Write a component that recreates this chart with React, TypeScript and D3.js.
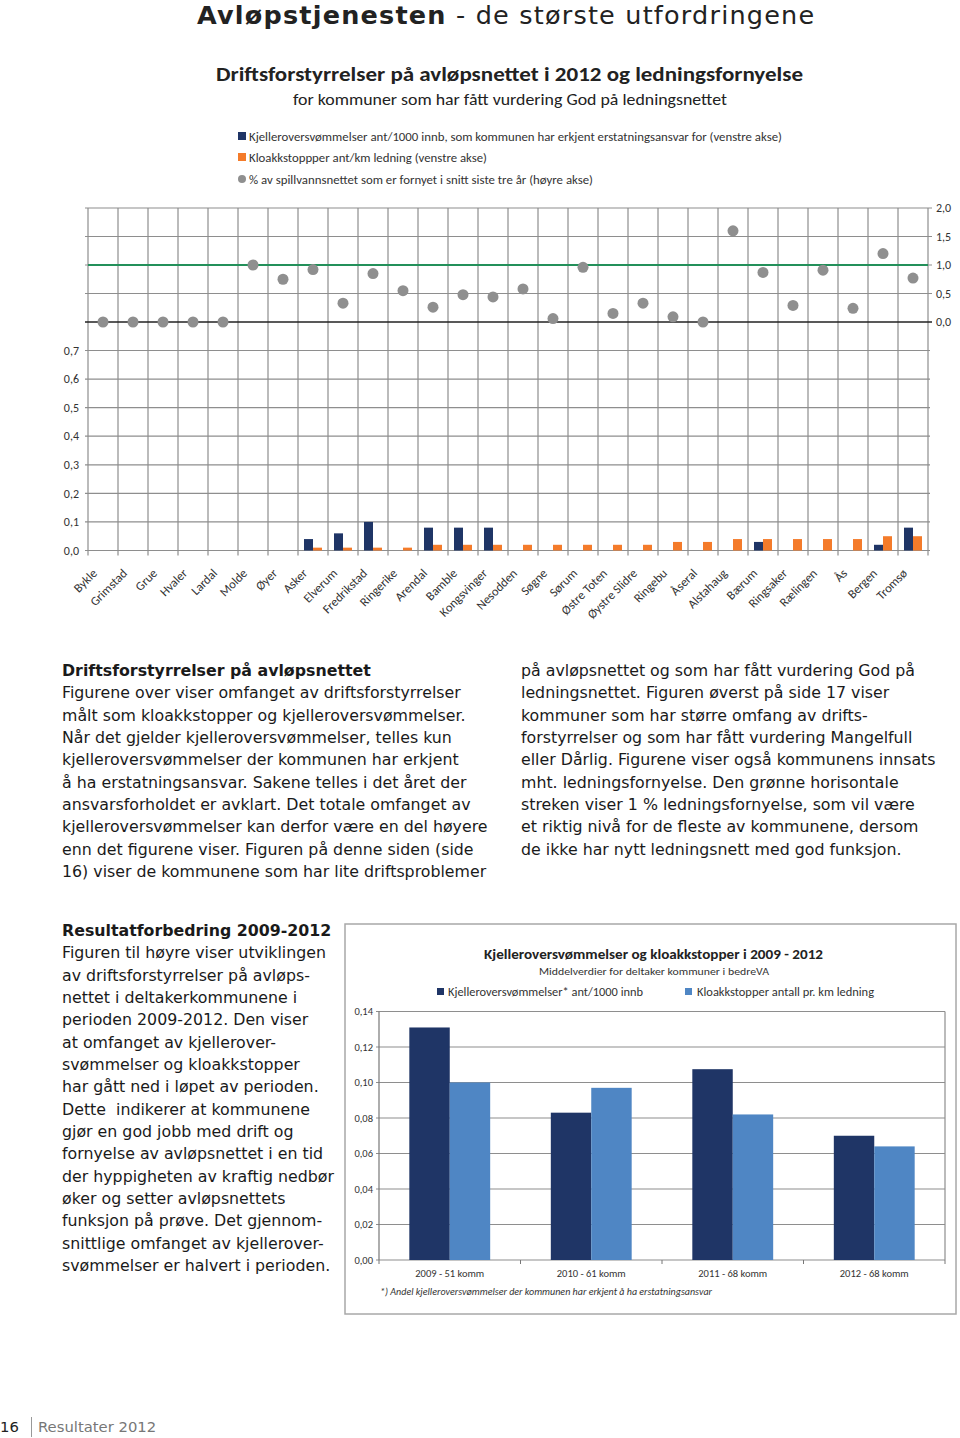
import React from 'react';
import * as d3 from 'd3';

// ---------- DATA ----------
const municipalities = ['Bykle','Grimstad','Grue','Hvaler','Lardal','Molde','Øyer','Asker','Elverum','Fredrikstad','Ringerike','Arendal','Bamble','Kongsvinger','Nesodden','Søgne','Sørum','Østre Toten','Øystre Slidre','Ringebu','Åseral','Alstahaug','Bærum','Ringsaker','Rælingen','Ås','Bergen','Tromsø'];
const basementFloods = [0,0,0,0,0,0,0,0.04,0.06,0.10,0,0.08,0.08,0.08,0,0,0,0,0,0,0,0,0.03,0,0,0,0.02,0.08];
const sewerBlockages = [0,0,0,0,0,0,0,0.01,0.01,0.01,0.01,0.02,0.02,0.02,0.02,0.02,0.02,0.02,0.02,0.03,0.03,0.04,0.04,0.04,0.04,0.04,0.05,0.05];
const renewalPct = [0,0,0,0,0,1.0,0.75,0.92,0.33,0.85,0.55,0.26,0.48,0.44,0.58,0.06,0.96,0.15,0.33,0.09,0.0,1.6,0.87,0.29,0.91,0.24,1.2,0.77];
const leftTicks = [0,0.1,0.2,0.3,0.4,0.5,0.6,0.7];
const rightTicks = [0,0.5,1.0,1.5,2.0];
const renewalTarget = 1.0;

const years = ['2009 - 51 komm','2010 - 61 komm','2011 - 68 komm','2012 - 68 komm'];
const avgFloods = [0.131,0.083,0.1075,0.070];
const avgBlockages = [0.100,0.097,0.082,0.064];
const bottomTicks = [0,0.02,0.04,0.06,0.08,0.10,0.12,0.14];

const para1Left = [
  'Figurene over viser omfanget av driftsforstyrrelser',
  'målt som kloakkstopper og kjelleroversvømmelser.',
  'Når det gjelder kjelleroversvømmelser, telles kun',
  'kjelleroversvømmelser der kommunen har erkjent',
  'å ha erstatningsansvar. Sakene telles i det året der',
  'ansvarsforholdet er avklart. Det totale omfanget av',
  'kjelleroversvømmelser kan derfor være en del høyere',
  'enn det figurene viser. Figuren på denne siden (side',
  '16) viser de kommunene som har lite driftsproblemer',
];
const para1Right = [
  'på avløpsnettet og som har fått vurdering God på',
  'ledningsnettet. Figuren øverst på side 17 viser',
  'kommuner som har større omfang av drifts-',
  'forstyrrelser og som har fått vurdering Mangelfull',
  'eller Dårlig. Figurene viser også kommunens innsats',
  'mht. ledningsfornyelse. Den grønne horisontale',
  'streken viser 1 % ledningsfornyelse, som vil være',
  'et riktig nivå for de fleste av kommunene, dersom',
  'de ikke har nytt ledningsnett med god funksjon.',
];
const para2 = [
  'Figuren til høyre viser utviklingen',
  'av driftsforstyrrelser på avløps-',
  'nettet i deltakerkommunene i',
  'perioden 2009-2012. Den viser',
  'at omfanget av kjellerover-',
  'svømmelser og kloakkstopper',
  'har gått ned i løpet av perioden.',
  'Dette  indikerer at kommunene',
  'gjør en god jobb med drift og',
  'fornyelse av avløpsnettet i en tid',
  'der hyppigheten av kraftig nedbør',
  'øker og setter avløpsnettets',
  'funksjon på prøve. Det gjennom-',
  'snittlige omfanget av kjellerover-',
  'svømmelser er halvert i perioden.',
];

// ---------- STYLE ----------
const VERD = '"DejaVu Sans", Verdana, sans-serif';
const CAL = 'Carlito, Calibri, Lato, sans-serif';
const NAVY = '#1f3566';
const ORANGE = '#f47b2a';
const LIGHT = '#4f86c4';
const GRID = '#8e8e8e';

const loc = d3.formatLocale({ decimal: ',', thousands: ' ', grouping: [3], currency: ['', ''] });
const f1 = loc.format('.1f');
const f2 = loc.format('.2f');

export default function App() {
  // upper combined chart
  const x = d3.scaleBand<string>().domain(municipalities).range([88, 928]).padding(0);
  const xi = d3.scaleBand<string>().domain(['k', 's']).range([0, x.bandwidth()]).paddingInner(0).paddingOuter(0.667);
  const yL = d3.scaleLinear().domain([0, 0.7]).range([550.5, 350.5]);
  const yR = d3.scaleLinear().domain([0, 2]).range([322, 208]);
  const left = 88, right = 928;

  // bottom chart
  const xb = d3.scaleBand<string>().domain(years).range([379, 945]).padding(0);
  const xbi = d3.scaleBand<string>().domain(['a', 'b']).range([0, xb.bandwidth()]).paddingInner(0).paddingOuter(0.75);
  const yb = d3.scaleLinear().domain([0, 0.14]).range([1260, 1011.5]);

  const lineH = 22.33;

  return (
    <svg width={960} height={1438} style={{ position: 'absolute', left: 0, top: 0, display: 'block', background: '#fff' }}>
      {/* Page title */}
      <text x={197} y={24} fontFamily={VERD} fontSize={25.5} letterSpacing={1.2} fill="#222">
        <tspan fontWeight="bold">Avløpstjenesten</tspan>
        <tspan> - de største utfordringene</tspan>
      </text>

      {/* Chart title */}
      <text x={216} y={81} fontFamily={CAL} fontWeight="bold" fontSize={20} fill="#222" textLength={587} lengthAdjust="spacingAndGlyphs">
        Driftsforstyrrelser på avløpsnettet i 2012 og ledningsfornyelse
      </text>
      <text x={293} y={105} fontFamily={CAL} fontSize={15.5} fill="#222" textLength={434} lengthAdjust="spacingAndGlyphs">
        for kommuner som har fått vurdering God på ledningsnettet
      </text>

      {/* Legend */}
      <rect x={238} y={132} width={8} height={8} fill={NAVY} />
      <text x={249} y={140.5} fontFamily={CAL} fontSize={12} fill="#333" textLength={533} lengthAdjust="spacingAndGlyphs">
        Kjelleroversvømmelser ant/1000 innb, som kommunen har erkjent erstatningsansvar for (venstre akse)
      </text>
      <rect x={238} y={153} width={8} height={8} fill={ORANGE} />
      <text x={249} y={161.5} fontFamily={CAL} fontSize={12} fill="#333" textLength={238} lengthAdjust="spacingAndGlyphs">
        Kloakkstoppper ant/km ledning (venstre akse)
      </text>
      <circle cx={242} cy={179} r={4} fill="#8f8f8f" />
      <text x={249} y={183.5} fontFamily={CAL} fontSize={12} fill="#333" textLength={344} lengthAdjust="spacingAndGlyphs">
        % av spillvannsnettet som er fornyet i snitt siste tre år (høyre akse)
      </text>

      {/* Upper grid (right axis) */}
      {rightTicks.map(t => (
        <g key={'r' + t}>
          {t !== 0 && <line x1={left - 3} x2={right + 4} y1={yR(t)} y2={yR(t)} stroke={GRID} strokeWidth={1.2} />}
          <text x={936} y={yR(t)} dy="0.35em" fontFamily={CAL} fontSize={12} fill="#333">{f1(t)}</text>
        </g>
      ))}
      {/* Lower grid (left axis) */}
      {leftTicks.map(t => (
        <g key={'l' + t}>
          <line x1={left - 3} x2={right + 2} y1={yL(t)} y2={yL(t)} stroke={GRID} strokeWidth={1.2} />
          <text x={79} y={yL(t)} dy="0.35em" textAnchor="end" fontFamily={CAL} fontSize={12} fill="#333">{f1(t)}</text>
        </g>
      ))}
      {/* Vertical grid */}
      {municipalities.map(m => (
        <line key={'v' + m} x1={x(m)!} x2={x(m)!} y1={yR(2)} y2={yL(0) + 5} stroke={GRID} strokeWidth={1.2} />
      ))}
      <line x1={right} x2={right} y1={yR(2)} y2={yL(0) + 5} stroke={GRID} strokeWidth={1.2} />

      {/* zero line (right axis) and target line */}
      <line x1={left - 3} x2={right + 4} y1={yR(0)} y2={yR(0)} stroke="#222" strokeWidth={1.4} />
      <line x1={left} x2={right} y1={yR(renewalTarget)} y2={yR(renewalTarget)} stroke="#23905a" strokeWidth={2} />

      {/* Bars */}
      {municipalities.map((m, i) => (
        <g key={'b' + m} transform={`translate(${x(m)},0)`}>
          {basementFloods[i] > 0 && (
            <rect x={xi('k')!} width={xi.bandwidth()} y={yL(basementFloods[i])} height={yL(0) - yL(basementFloods[i])} fill={NAVY} />
          )}
          {sewerBlockages[i] > 0 && (
            <rect x={xi('s')!} width={xi.bandwidth()} y={yL(sewerBlockages[i])} height={yL(0) - yL(sewerBlockages[i])} fill={ORANGE} />
          )}
        </g>
      ))}

      {/* Dots */}
      {municipalities.map((m, i) => (
        <circle key={'d' + m} cx={x(m)! + x.bandwidth() / 2} cy={yR(renewalPct[i])} r={5.5} fill="#8f8f8f" />
      ))}

      {/* Category labels */}
      {municipalities.map(m => {
        const cx = x(m)! + x.bandwidth() / 2;
        return (
          <text key={'t' + m} transform={`translate(${cx - 5},574) rotate(-45)`} textAnchor="end" fontFamily={CAL} fontSize={12.5} fill="#333">{m}</text>
        );
      })}

      {/* Paragraph 1 */}
      <g fontFamily={VERD} fontSize={15.8} fill="#1a1a1a">
        <text x={62} y={671 + 5} fontWeight="bold">Driftsforstyrrelser på avløpsnettet</text>
        {para1Left.map((l, i) => (
          <text key={'pl' + i} x={62} y={671 + 5 + (i + 1) * lineH} style={{ whiteSpace: 'pre' }}>{l}</text>
        ))}
        {para1Right.map((l, i) => (
          <text key={'pr' + i} x={521} y={671 + 5 + i * lineH} style={{ whiteSpace: 'pre' }}>{l}</text>
        ))}
        <text x={62} y={931 + 5} fontWeight="bold">Resultatforbedring 2009-2012</text>
        {para2.map((l, i) => (
          <text key={'p2' + i} x={62} y={931 + 5 + (i + 1) * lineH} style={{ whiteSpace: 'pre' }}>{l}</text>
        ))}
      </g>

      {/* Bottom chart frame */}
      <rect x={345} y={924} width={611} height={390} fill="none" stroke="#a8a8a8" strokeWidth={1.5} />
      <text x={484} y={958.5} fontFamily={CAL} fontWeight="bold" fontSize={14.5} fill="#222" textLength={339} lengthAdjust="spacingAndGlyphs">
        Kjelleroversvømmelser og kloakkstopper i 2009 - 2012
      </text>
      <text x={539} y={975} fontFamily={CAL} fontSize={11} fill="#333" textLength={230} lengthAdjust="spacingAndGlyphs">
        Middelverdier for deltaker kommuner i bedreVA
      </text>
      <rect x={437} y={988} width={7} height={7} fill={NAVY} />
      <text x={448} y={996} fontFamily={CAL} fontSize={12} fill="#333" textLength={195} lengthAdjust="spacingAndGlyphs">
        Kjelleroversvømmelser* ant/1000 innb
      </text>
      <rect x={685} y={988} width={7} height={7} fill={LIGHT} />
      <text x={697} y={996} fontFamily={CAL} fontSize={12} fill="#333" textLength={177} lengthAdjust="spacingAndGlyphs">
        Kloakkstopper antall pr. km ledning
      </text>

      {bottomTicks.map(t => (
        <g key={'bt' + t}>
          <line x1={376} x2={945} y1={yb(t)} y2={yb(t)} stroke={GRID} strokeWidth={1.2} />
          <text x={373} y={yb(t)} dy="0.35em" textAnchor="end" fontFamily={CAL} fontSize={10.5} fill="#333">{f2(t)}</text>
        </g>
      ))}
      <line x1={379} x2={379} y1={yb(0.14)} y2={yb(0)} stroke="#777" strokeWidth={1.2} />
      <line x1={945} x2={945} y1={yb(0.14)} y2={yb(0)} stroke={GRID} strokeWidth={1.2} />
      {years.map(y => (
        <line key={'tk' + y} x1={xb(y)!} x2={xb(y)!} y1={yb(0)} y2={yb(0) + 4} stroke="#777" strokeWidth={1} />
      ))}
      <line x1={945} x2={945} y1={yb(0)} y2={yb(0) + 4} stroke="#777" strokeWidth={1} />

      {years.map((y, i) => (
        <g key={'yb' + y} transform={`translate(${xb(y)},0)`}>
          <rect x={xbi('a')!} width={xbi.bandwidth()} y={yb(avgFloods[i])} height={yb(0) - yb(avgFloods[i])} fill={NAVY} />
          <rect x={xbi('b')!} width={xbi.bandwidth()} y={yb(avgBlockages[i])} height={yb(0) - yb(avgBlockages[i])} fill={LIGHT} />
          <text x={xb.bandwidth() / 2} y={1273} dy="0.35em" textAnchor="middle" fontFamily={CAL} fontSize={10.5} fill="#333">{y}</text>
        </g>
      ))}
      <text x={380} y={1294.5} fontFamily={CAL} fontStyle="italic" fontSize={10} fill="#333" textLength={332} lengthAdjust="spacingAndGlyphs">
        *) Andel kjelleroversvømmelser der kommunen har erkjent å ha erstatningsansvar
      </text>

      {/* Footer */}
      <text x={0} y={1432} fontFamily={VERD} fontSize={14.8} fill="#222">16</text>
      <line x1={31.5} x2={31.5} y1={1417} y2={1437} stroke="#999" strokeWidth={1} />
      <text x={38} y={1432} fontFamily={VERD} fontSize={14.8} fill="#777">Resultater 2012</text>
    </svg>
  );
}
